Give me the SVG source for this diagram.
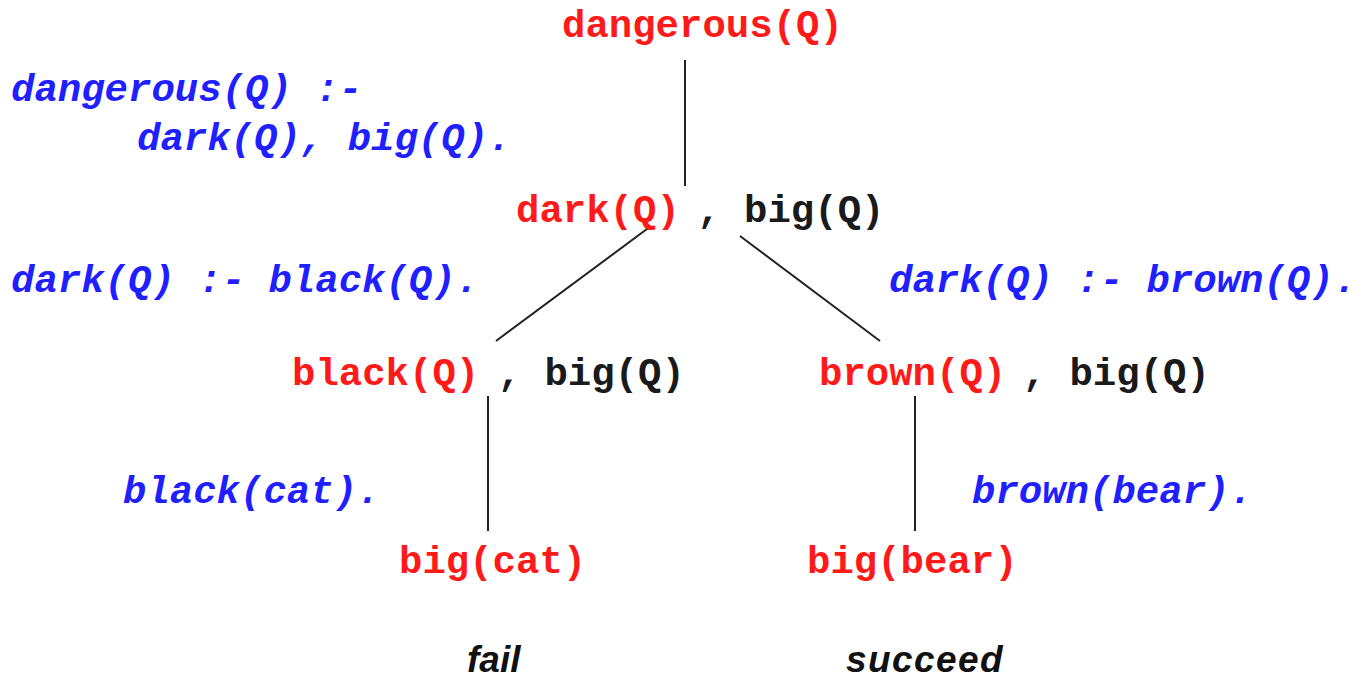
<svg xmlns="http://www.w3.org/2000/svg" width="1362" height="681" viewBox="0 0 1362 681">
<style>
.m{font-family:"Liberation Mono","Courier New",monospace;font-weight:bold;font-size:39px}
.r{fill:#ff1a1a}
.k{fill:#1a1a1a}
.b{fill:#1f1fff;font-style:italic}
.s{font-family:"Liberation Sans",Arial,sans-serif;font-weight:bold;font-style:italic;font-size:37px;fill:#111}
.e{stroke:#222;stroke-width:2;fill:none}
</style>
<rect width="1362" height="681" fill="#fff"/>
<g id="connectors">
<line class="e" x1="685" y1="60" x2="685" y2="186"/>
<line class="e" x1="651" y1="226" x2="496" y2="341"/>
<line class="e" x1="740" y1="236" x2="880" y2="341"/>
<line class="e" x1="488" y1="396" x2="488" y2="531"/>
<line class="e" x1="915" y1="396" x2="915" y2="531"/>
</g>
<g id="n-dangerous"><text class="m r" x="562" y="37">dangerous(Q)</text></g>
<g id="n-dark"><text class="m" x="516" y="222"><tspan class="r">dark(Q)</tspan><tspan class="k" dx="-6"> , big(Q)</tspan></text></g>
<g id="n-black"><text class="m" x="292" y="385"><tspan class="r">black(Q)</tspan><tspan class="k" dx="-5"> , big(Q)</tspan></text></g>
<g id="n-brown"><text class="m" x="819" y="385"><tspan class="r">brown(Q)</tspan><tspan class="k" dx="-7"> , big(Q)</tspan></text></g>
<g id="n-bigcat"><text class="m r" x="399" y="573">big(cat)</text></g>
<g id="n-bigbear"><text class="m r" x="807" y="573">big(bear)</text></g>
<g id="rules">
<text class="m b" x="11" y="101">dangerous(Q) :-</text>
<text class="m b" x="137" y="150">dark(Q), big(Q).</text>
<text class="m b" x="11" y="292">dark(Q) :- black(Q).</text>
<text class="m b" x="889" y="292">dark(Q) :- brown(Q).</text>
<text class="m b" x="123" y="503">black(cat).</text>
<text class="m b" x="972" y="503">brown(bear).</text>
</g>
<g id="outcomes">
<text class="s" x="467" y="672">fail</text>
<text class="s" x="846" y="672" style="letter-spacing:1.4px">succeed</text>
</g>
</svg>
